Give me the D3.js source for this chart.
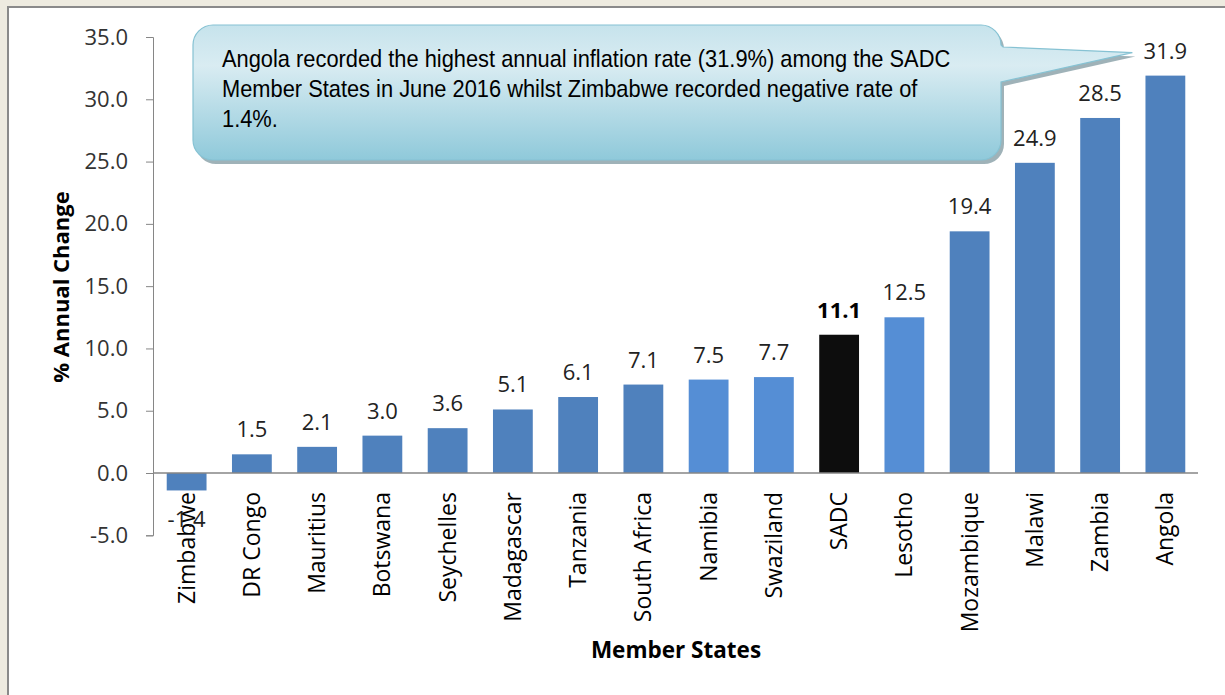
<!DOCTYPE html>
<html>
<head>
<meta charset="utf-8">
<script src="https://cdn.jsdelivr.net/npm/d3@7.9.0/dist/d3.min.js"></script>
<style>
  html, body { margin: 0; padding: 0; background: #eeebe0; }
  svg { display: block; }
</style>
</head>
<body>
<svg id="chart" width="1225" height="695"></svg>
<script>
const states = ['Zimbabwe', 'DR Congo', 'Mauritius', 'Botswana', 'Seychelles', 'Madagascar',
  'Tanzania', 'South Africa', 'Namibia', 'Swaziland', 'SADC', 'Lesotho', 'Mozambique',
  'Malawi', 'Zambia', 'Angola'];
const inflation = [-1.4, 1.5, 2.1, 3.0, 3.6, 5.1, 6.1, 7.1, 7.5, 7.7, 11.1, 12.5, 19.4, 24.9, 28.5, 31.9];
const lighterStates = ['Namibia', 'Swaziland', 'Lesotho'];
const regionTotal = 'SADC';
const yTicks = [-5, 0, 5, 10, 15, 20, 25, 30, 35];
const calloutLines = [
  'Angola recorded the highest annual inflation rate (31.9%) among the SADC',
  'Member States in June 2016 whilst Zimbabwe recorded negative rate of',
  '1.4%.'
];

const data = states.map((name, i) => ({ name, value: inflation[i] }));

const svg = d3.select('#chart');
const W = 1225, H = 695;
// excel-style number: plain hyphen for negatives
const fmt = (v) => d3.format('.1f')(v).replace('\u2212', '-');

// frame
svg.append('rect').attr('x', 0).attr('y', 0).attr('width', W).attr('height', H).attr('fill', '#eeebe0');
svg.append('rect').attr('x', 9).attr('y', 8).attr('width', W - 9).attr('height', H - 8).attr('fill', '#fff');
svg.append('line').attr('x1', 8).attr('x2', 8).attr('y1', 7).attr('y2', H)
  .attr('stroke', '#8a8a8a').attr('stroke-width', 2);
svg.append('line').attr('x1', 7).attr('x2', W).attr('y1', 7).attr('y2', 7)
  .attr('stroke', '#8a8a8a').attr('stroke-width', 2);

const x = d3.scaleBand().domain(states).range([154, 1198]).paddingInner(0.39).paddingOuter(0.195);
const y = d3.scaleLinear().domain([-5, 35]).range([535.3, 37]);

const colour = (d) => d.name === regionTotal ? '#0d0d0d'
  : lighterStates.includes(d.name) ? '#558ed5' : '#4f81bd';

// bars
svg.append('g').selectAll('rect').data(data).join('rect')
  .attr('x', (d) => x(d.name))
  .attr('width', x.bandwidth())
  .attr('y', (d) => y(Math.max(0, d.value)))
  .attr('height', (d) => Math.abs(y(d.value) - y(0)))
  .attr('fill', colour);

// y axis
const yAxis = svg.append('g').attr('transform', 'translate(153,0)')
  .call(d3.axisLeft(y).tickValues(yTicks).tickSize(7).tickPadding(18).tickFormat(fmt));
yAxis.select('.domain').attr('stroke', '#868686');
yAxis.selectAll('.tick line').attr('stroke', '#868686');
yAxis.selectAll('.tick text')
  .attr('font-family', 'Open Sans').attr('font-size', 22).attr('fill', '#333');

// zero line
svg.append('line').attr('x1', 153).attr('x2', 1198).attr('y1', y(0)).attr('y2', y(0))
  .attr('stroke', '#868686').attr('stroke-width', 1.5);

// category labels
svg.append('g').selectAll('text').data(data).join('text')
  .attr('transform', (d) => `translate(${x(d.name) + x.bandwidth() / 2 + 8},492) rotate(-90)`)
  .attr('text-anchor', 'end')
  .attr('font-family', 'Open Sans').attr('font-size', 23).attr('fill', '#000')
  .text((d) => d.name);

// value labels
svg.append('g').selectAll('text').data(data).join('text')
  .attr('x', (d) => x(d.name) + x.bandwidth() / 2)
  .attr('y', (d) => d.value >= 0 ? y(d.value) - 17 : y(d.value) + 37)
  .attr('text-anchor', 'middle')
  .attr('font-family', 'Open Sans').attr('font-size', 22)
  .attr('font-weight', (d) => d.name === regionTotal ? 700 : 400)
  .attr('fill', (d) => d.name === regionTotal ? '#000' : '#222')
  .text((d) => fmt(d.value));

// axis titles
svg.append('text').attr('transform', 'translate(69,287) rotate(-90)')
  .attr('text-anchor', 'middle')
  .attr('font-family', 'Open Sans').attr('font-weight', 700).attr('font-size', 22)
  .text('% Annual Change');
svg.append('text').attr('x', 676).attr('y', 658)
  .attr('text-anchor', 'middle')
  .attr('font-family', 'Open Sans').attr('font-weight', 700).attr('font-size', 22.5)
  .text('Member States');

// callout
const defs = svg.append('defs');
const grad = defs.append('linearGradient').attr('id', 'callout-grad')
  .attr('x1', 0).attr('y1', 0).attr('x2', 0).attr('y2', 1);
grad.append('stop').attr('offset', 0).attr('stop-color', '#c6e3ec');
grad.append('stop').attr('offset', 0.3).attr('stop-color', '#d9ecf2');
grad.append('stop').attr('offset', 1).attr('stop-color', '#8fc9da');

const tipX = x('Angola') + x.bandwidth() / 2 - 33;
const tipY = y(inflation[inflation.length - 1]) - 23;

function calloutPath(l, t, r, b, rad) {
  const p = d3.path();
  p.moveTo(l + rad, t);
  p.lineTo(r - rad, t);
  p.arcTo(r, t, r, t + rad, rad);
  p.lineTo(r + 2, t + 22);
  p.lineTo(tipX, tipY);
  p.lineTo(r, t + 57);
  p.lineTo(r, b - rad);
  p.arcTo(r, b, r - rad, b, rad);
  p.lineTo(l + rad, b);
  p.arcTo(l, b, l, b - rad, rad);
  p.lineTo(l, t + rad);
  p.arcTo(l, t, l + rad, t, rad);
  p.closePath();
  return p.toString();
}
const cPath = calloutPath(193, 25, 1001, 160, 20);
svg.append('path').attr('d', cPath).attr('transform', 'translate(3,4)')
  .attr('fill', '#8ea4ab').attr('opacity', 0.85);
svg.append('path').attr('d', cPath).attr('fill', 'url(#callout-grad)')
  .attr('stroke', '#86c2d3').attr('stroke-width', 1.2);

const ct = svg.append('g').attr('transform', 'translate(222,0) scale(0.91,1)');
ct.selectAll('text').data(calloutLines).join('text')
  .attr('x', 0).attr('y', (d, i) => 67 + i * 30)
  .attr('font-family', 'Liberation Sans, Arial').attr('font-size', 24).attr('fill', '#000')
  .text((d) => d);
</script>
</body>
</html>
